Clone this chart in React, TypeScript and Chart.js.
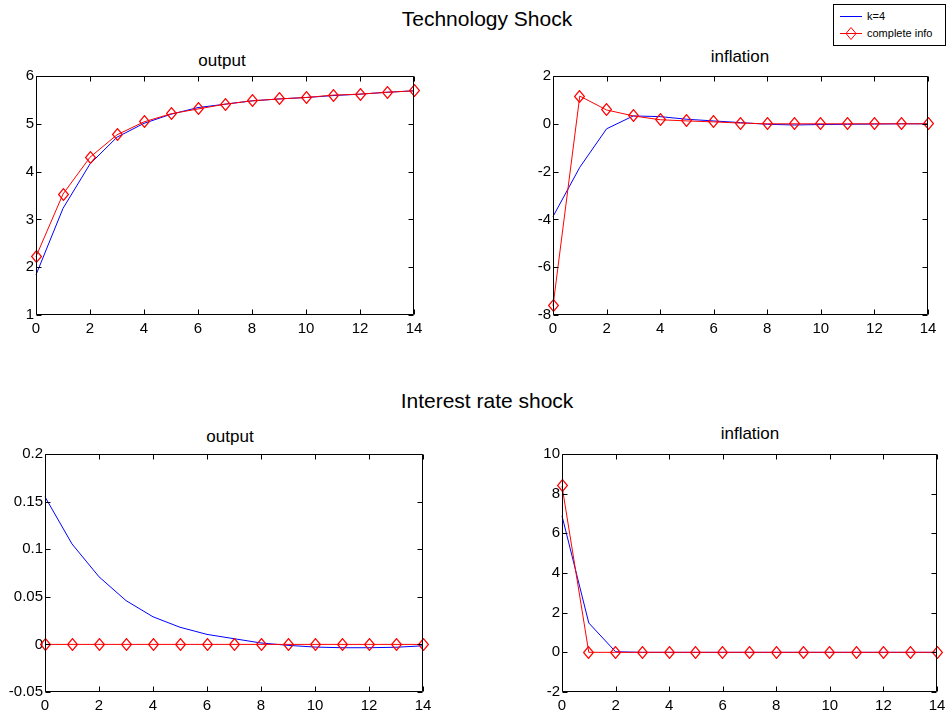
import React, { useEffect, useRef } from "react";
import { Chart, registerables } from "chart.js";

Chart.register(...registerables);

const periods = [0, 1, 2, 3, 4, 5, 6, 7, 8, 9, 10, 11, 12, 13, 14];

const techOutputK4 = [1.84, 3.23, 4.16, 4.72, 5.01, 5.2, 5.34, 5.41, 5.48, 5.52, 5.55, 5.59, 5.62, 5.66, 5.69];
const techOutputFull = [2.22, 3.53, 4.3, 4.77, 5.04, 5.21, 5.31, 5.41, 5.48, 5.52, 5.55, 5.6, 5.62, 5.66, 5.69];

const techInflK4 = [-3.88, -1.82, -0.21, 0.33, 0.3, 0.19, 0.12, 0.05, -0.02, -0.05, -0.03, -0.02, -0.01, 0, 0];
const techInflFull = [-7.62, 1.16, 0.58, 0.33, 0.17, 0.12, 0.08, 0.03, 0, 0, 0, 0, 0, 0, 0];

const rateOutputK4 = [0.155, 0.1055, 0.071, 0.046, 0.029, 0.018, 0.0105, 0.006, 0.0015, -0.001, -0.0028, -0.0035, -0.0035, -0.003, -0.0015];
const rateOutputFull = [0, 0, 0, 0, 0, 0, 0, 0, 0, 0, 0, 0, 0, 0, 0];

const rateInflK4 = [6.88, 1.48, 0.03, 0, 0, 0, 0, 0, 0, 0, 0, 0, 0, 0, 0];
const rateInflFull = [8.39, 0, 0, 0, 0, 0, 0, 0, 0, 0, 0, 0, 0, 0, 0];

const seriesLabels = ["k=4", "complete info"];
const mainTitles = ["Technology Shock", "Interest rate shock"];
const panelTitles = ["output", "inflation", "output", "inflation"];

const FONT = "'Liberation Sans', Arial, Helvetica, sans-serif";
const PAD_L = 50;
const PAD_T = 10;
const PAD_R = 10;
const PAD_B = 25;

type Panel = {
  title: string;
  k4: number[];
  full: number[];
  yMin: number;
  yMax: number;
  yStep: number;
  plot: { l: number; t: number; r: number; b: number };
  titlePos: { x: number; y: number };
};

const panels: Panel[] = [
  { title: panelTitles[0], k4: techOutputK4, full: techOutputFull, yMin: 1, yMax: 6, yStep: 1, plot: { l: 36, t: 76, r: 414, b: 315 }, titlePos: { x: 222, y: 60 } },
  { title: panelTitles[1], k4: techInflK4, full: techInflFull, yMin: -8, yMax: 2, yStep: 2, plot: { l: 553, t: 76, r: 928, b: 315 }, titlePos: { x: 740, y: 56 } },
  { title: panelTitles[2], k4: rateOutputK4, full: rateOutputFull, yMin: -0.05, yMax: 0.2, yStep: 0.05, plot: { l: 45, t: 454, r: 423, b: 692 }, titlePos: { x: 230, y: 436 } },
  { title: panelTitles[3], k4: rateInflK4, full: rateInflFull, yMin: -2, yMax: 10, yStep: 2, plot: { l: 562, t: 454, r: 937, b: 692 }, titlePos: { x: 750, y: 433 } },
];

function makeDiamond(): HTMLCanvasElement {
  const c = document.createElement("canvas");
  c.width = 11;
  c.height = 13;
  const ctx = c.getContext("2d")!;
  ctx.strokeStyle = "#ff0000";
  ctx.lineWidth = 1.2;
  ctx.beginPath();
  ctx.moveTo(5.5, 0.6);
  ctx.lineTo(10.4, 6.5);
  ctx.lineTo(5.5, 12.4);
  ctx.lineTo(0.6, 6.5);
  ctx.closePath();
  ctx.stroke();
  return c;
}

const matlabAxes = {
  id: "matlabAxes",
  beforeDatasetsDraw(chart: any) {
    chart.ctx.imageSmoothingEnabled = false;
  },
  afterDatasetsDraw(chart: any) {
    const { ctx, chartArea: a, scales } = chart;
    const L = Math.round(a.left) + 0.5;
    const R = Math.round(a.right) - 0.5;
    const T = Math.round(a.top) + 0.5;
    const B = Math.round(a.bottom) - 0.5;
    ctx.save();
    ctx.strokeStyle = "#000";
    ctx.lineWidth = 1;
    ctx.beginPath();
    ctx.rect(L, T, R - L, B - T);
    const tl = 5;
    for (const t of scales.x.ticks) {
      const px = Math.round(scales.x.getPixelForValue(t.value)) + 0.5;
      ctx.moveTo(px, B);
      ctx.lineTo(px, B - tl);
      ctx.moveTo(px, T);
      ctx.lineTo(px, T + tl);
    }
    for (const t of scales.y.ticks) {
      const py = Math.round(scales.y.getPixelForValue(t.value)) + 0.5;
      ctx.moveTo(L, py);
      ctx.lineTo(L + tl, py);
      ctx.moveTo(R, py);
      ctx.lineTo(R - tl, py);
    }
    ctx.stroke();
    ctx.restore();
  },
};

function fmt(v: number): string {
  const n = Math.round(v * 1000) / 1000;
  return String(n);
}

function PanelChart({ p }: { p: Panel }) {
  const ref = useRef<HTMLCanvasElement | null>(null);
  const w = p.plot.r - p.plot.l + PAD_L + PAD_R;
  const h = p.plot.b - p.plot.t + PAD_T + PAD_B;
  useEffect(() => {
    const diamond = makeDiamond();
    const chart = new Chart(ref.current!, {
      type: "line",
      data: {
        datasets: [
          {
            label: seriesLabels[0],
            data: periods.map((x, i) => ({ x, y: p.k4[i] })),
            borderColor: "#0000ff",
            borderWidth: 1,
            pointRadius: 0,
            fill: false,
            tension: 0,
            order: 1,
            clip: false as any,
          },
          {
            label: seriesLabels[1],
            data: periods.map((x, i) => ({ x, y: p.full[i] })),
            borderColor: "#ff0000",
            borderWidth: 1,
            pointStyle: diamond as any,
            pointRadius: 6,
            pointBackgroundColor: "rgba(0,0,0,0)",
            pointBorderColor: "#ff0000",
            fill: false,
            tension: 0,
            order: 0,
            clip: false as any,
          },
        ],
      },
      options: {
        animation: false,
        responsive: false,
        events: [],
        layout: { padding: { left: 0, top: PAD_T, right: PAD_R, bottom: 0 } },
        plugins: { legend: { display: false }, title: { display: false }, tooltip: { enabled: false } },
        scales: {
          x: {
            type: "linear",
            min: 0,
            max: 14,
            ticks: { stepSize: 2, color: "#000", font: { family: FONT, size: 15 }, padding: 5, maxRotation: 0, autoSkip: false },
            grid: { display: false, drawTicks: false },
            border: { display: false },
            afterFit(s: any) {
              s.height = PAD_B;
              s.paddingLeft = 0;
              s.paddingRight = 0;
            },
          },
          y: {
            type: "linear",
            min: p.yMin,
            max: p.yMax,
            ticks: { stepSize: p.yStep, color: "#000", font: { family: FONT, size: 15 }, padding: 2, callback: (v: any) => fmt(Number(v)) },
            grid: { display: false, drawTicks: false },
            border: { display: false },
            afterFit(s: any) {
              s.width = PAD_L;
              s.paddingTop = 0;
              s.paddingBottom = 0;
            },
          },
        },
      },
      plugins: [matlabAxes],
    } as any);
    return () => chart.destroy();
  }, []);
  return (
    <canvas
      ref={ref}
      width={w}
      height={h}
      style={{ position: "absolute", left: p.plot.l - PAD_L, top: p.plot.t - PAD_T, width: w, height: h }}
    />
  );
}

function Text({ x, y, size, children }: { x: number; y: number; size: number; children: React.ReactNode }) {
  return (
    <div
      style={{
        position: "absolute",
        left: x - 150,
        top: y - size / 2,
        width: 300,
        height: size,
        lineHeight: size + "px",
        fontSize: size,
        fontFamily: FONT,
        textAlign: "center",
        color: "#000",
        whiteSpace: "nowrap",
      }}
    >
      {children}
    </div>
  );
}

export default function App() {
  return (
    <div style={{ position: "absolute", left: 0, top: 0, width: 948, height: 715, overflow: "hidden", background: "#fff" }}>
      <Text x={487} y={18} size={21}>{mainTitles[0]}</Text>
      <Text x={487} y={400} size={21}>{mainTitles[1]}</Text>
      {panels.map((p, i) => (
        <Text key={"t" + i} x={p.titlePos.x} y={p.titlePos.y} size={17}>{p.title}</Text>
      ))}
      {panels.map((p, i) => (
        <PanelChart key={i} p={p} />
      ))}
      <div
        style={{
          position: "absolute",
          left: 833,
          top: 4,
          width: 111,
          height: 40,
          border: "1px solid #000",
          background: "#fff",
          fontFamily: FONT,
          fontSize: 11,
          color: "#000",
        }}
      >
        <svg width={30} height={40} style={{ position: "absolute", left: 0, top: 0 }}>
          <line x1={6} y1={11.5} x2={28} y2={11.5} stroke="#0000ff" strokeWidth={1} />
          <line x1={6} y1={28.5} x2={28} y2={28.5} stroke="#ff0000" strokeWidth={1} />
          <path d="M17 22.5 L22 28.5 L17 34.5 L12 28.5 Z" fill="none" stroke="#ff0000" strokeWidth={1} />
        </svg>
        <div style={{ position: "absolute", left: 33, top: 4, lineHeight: "14px" }}>{seriesLabels[0]}</div>
        <div style={{ position: "absolute", left: 33, top: 21, lineHeight: "14px" }}>{seriesLabels[1]}</div>
      </div>
    </div>
  );
}
